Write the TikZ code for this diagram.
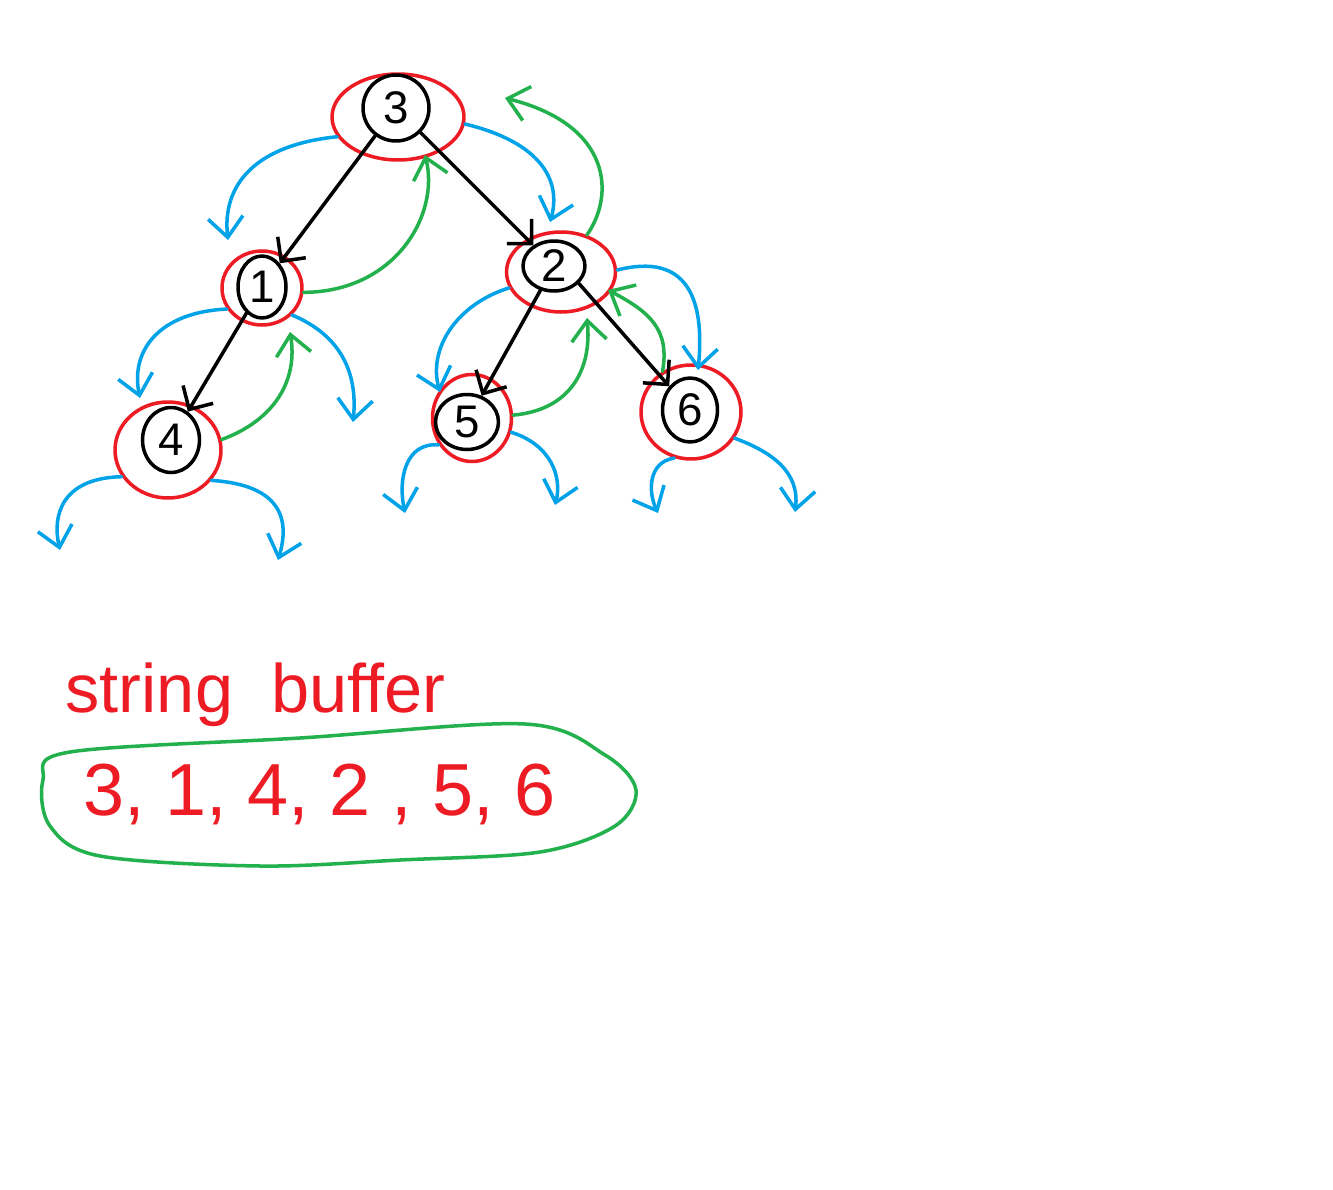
\documentclass[tikz,border=0pt]{standalone}
\usepackage{fontspec}
\setmainfont{Liberation Sans}
\usetikzlibrary{shapes.geometric,arrows.meta}
\definecolor{pred}{HTML}{ED1C24}
\definecolor{pblue}{HTML}{00A2E8}
\definecolor{pgreen}{HTML}{22B14C}
\begin{document}
\begin{tikzpicture}[x=0.02cm,y=-0.02cm, line width=2pt, line cap=round, line join=round,
 bnode/.style={ellipse, draw=black, inner sep=0pt, font=\fontsize{26}{28}\selectfont},
 rnode/.style={ellipse, draw=pred, inner sep=0pt},
 tree/.style={draw=black, -{Straight Barb[length=3.5mm,width=7mm]}},
 call/.style={draw=pblue, -{Straight Barb[length=4mm,width=7mm]}},
 ret/.style={draw=pgreen, -{Straight Barb[length=4mm,width=7mm]}}]
\useasboundingbox[fill=white] (0,0) rectangle (1333,1190);

% red outer rings
\node[rnode, minimum width=2.64cm, minimum height=1.72cm] (r3) at (398,117) {};
\node[rnode, minimum width=1.6cm, minimum height=1.48cm] (r1) at (262,288) {};
\node[rnode, minimum width=2.18cm, minimum height=1.6cm] (r2) at (561,272) {};
\node[rnode, minimum width=2.12cm, minimum height=1.92cm] (r4) at (168,450) {};
\node[rnode, minimum width=1.58cm, minimum height=1.74cm] (r5) at (472,418) {};
\node[rnode, minimum width=2.0cm, minimum height=1.88cm] (r6) at (691,412) {};

% black tree nodes
\node[bnode, minimum width=1.32cm, minimum height=1.32cm] (n3) at (396,108) {3};
\node[bnode, minimum width=0.96cm, minimum height=1.24cm] (n1) at (262,287) {1};
\node[bnode, minimum width=1.24cm, minimum height=1.0cm] (n2) at (554,266) {2};
\node[bnode, minimum width=1.14cm, minimum height=1.3cm] (n4) at (171,440) {4};
\node[bnode, minimum width=1.26cm, minimum height=1.1cm] (n5) at (467,422) {5};
\node[bnode, minimum width=1.1cm, minimum height=1.28cm] (n6) at (690,410) {6};

% tree edges
\draw[tree] (n3) -- (n1);
\draw[tree] (n3) -- (n2);
\draw[tree] (n1) -- (n4);
\draw[tree] (n2) -- (n5);
\draw[tree] (n2.-35) -- (n6);

% free ends
\coordinate (e1) at (228,240);
\coordinate (e2) at (550,222);
\coordinate (e3) at (140,398);
\coordinate (e4) at (353,422);
\coordinate (e5) at (60,550);
\coordinate (e6) at (278,560);
\coordinate (e7) at (440,392);
\coordinate (e8) at (698,370);
\coordinate (e9) at (405,513);
\coordinate (e10) at (555,505);
\coordinate (e11) at (658,513);
\coordinate (e12) at (795,512);
\coordinate (g1e) at (290,332);
\coordinate (g2e) at (425,155);
\coordinate (g3e) at (587,318);
\coordinate (g4e) at (608,290);
\coordinate (g5e) at (505,98);

% blue calls
\draw[call] (r3.198) .. controls (255,145) and (222,185) .. (e1);
\draw[call] (r3.354) .. controls (540,142) and (562,180) .. (e2);
\draw[call] (r1.211) .. controls (160,312) and (130,350) .. (e3);
\draw[call] (r1.318) .. controls (340,335) and (358,372) .. (e4);
\draw[call] (r4.210) .. controls (62,478) and (52,515) .. (e5);
\draw[call] (r4.325) .. controls (282,485) and (290,520) .. (e6);
\draw[call] (r2.197) .. controls (455,305) and (428,350) .. (e7);
\draw[call] (r2.2) .. controls (688,252) and (705,300) .. (e8);
\draw[call] (r5.219) .. controls (405,442) and (398,480) .. (e9);
\draw[call] (r5.340) .. controls (552,445) and (562,478) .. (e10);
\draw[call] (r6.250) .. controls (648,462) and (648,492) .. (e11);
\draw[call] (r6.329) .. controls (772,452) and (800,472) .. (e12);

% green returns
\draw[ret] (r4.11) .. controls (275,420) and (298,380) .. (g1e);
\draw[ret] (r1.354) .. controls (395,292) and (440,215) .. (g2e);
\draw[ret] (r5.4) .. controls (570,410) and (592,370) .. (g3e);
\draw[ret] (r6.125) .. controls (670,330) and (650,312) .. (g4e);
\draw[ret] (r2.55) .. controls (615,195) and (612,125) .. (g5e);

% string buffer
\node[text=pred, anchor=base west, font=\fontsize{39}{41}\selectfont] (title) at (58,712) {string\ \ buffer};
\node[text=pred, anchor=base west, font=\fontsize{42}{44}\selectfont] (buf) at (76,815) {3,\ 1,\ 4,\ 2\ ,\ 5,\ 6};
\draw[pgreen] plot[smooth cycle, tension=0.55] coordinates {(70,752) (300,738) (525,724) (605,755) (636,790) (615,826) (540,852) (400,860) (260,866) (100,856) (50,826) (43,780)};
\end{tikzpicture}
\end{document}
